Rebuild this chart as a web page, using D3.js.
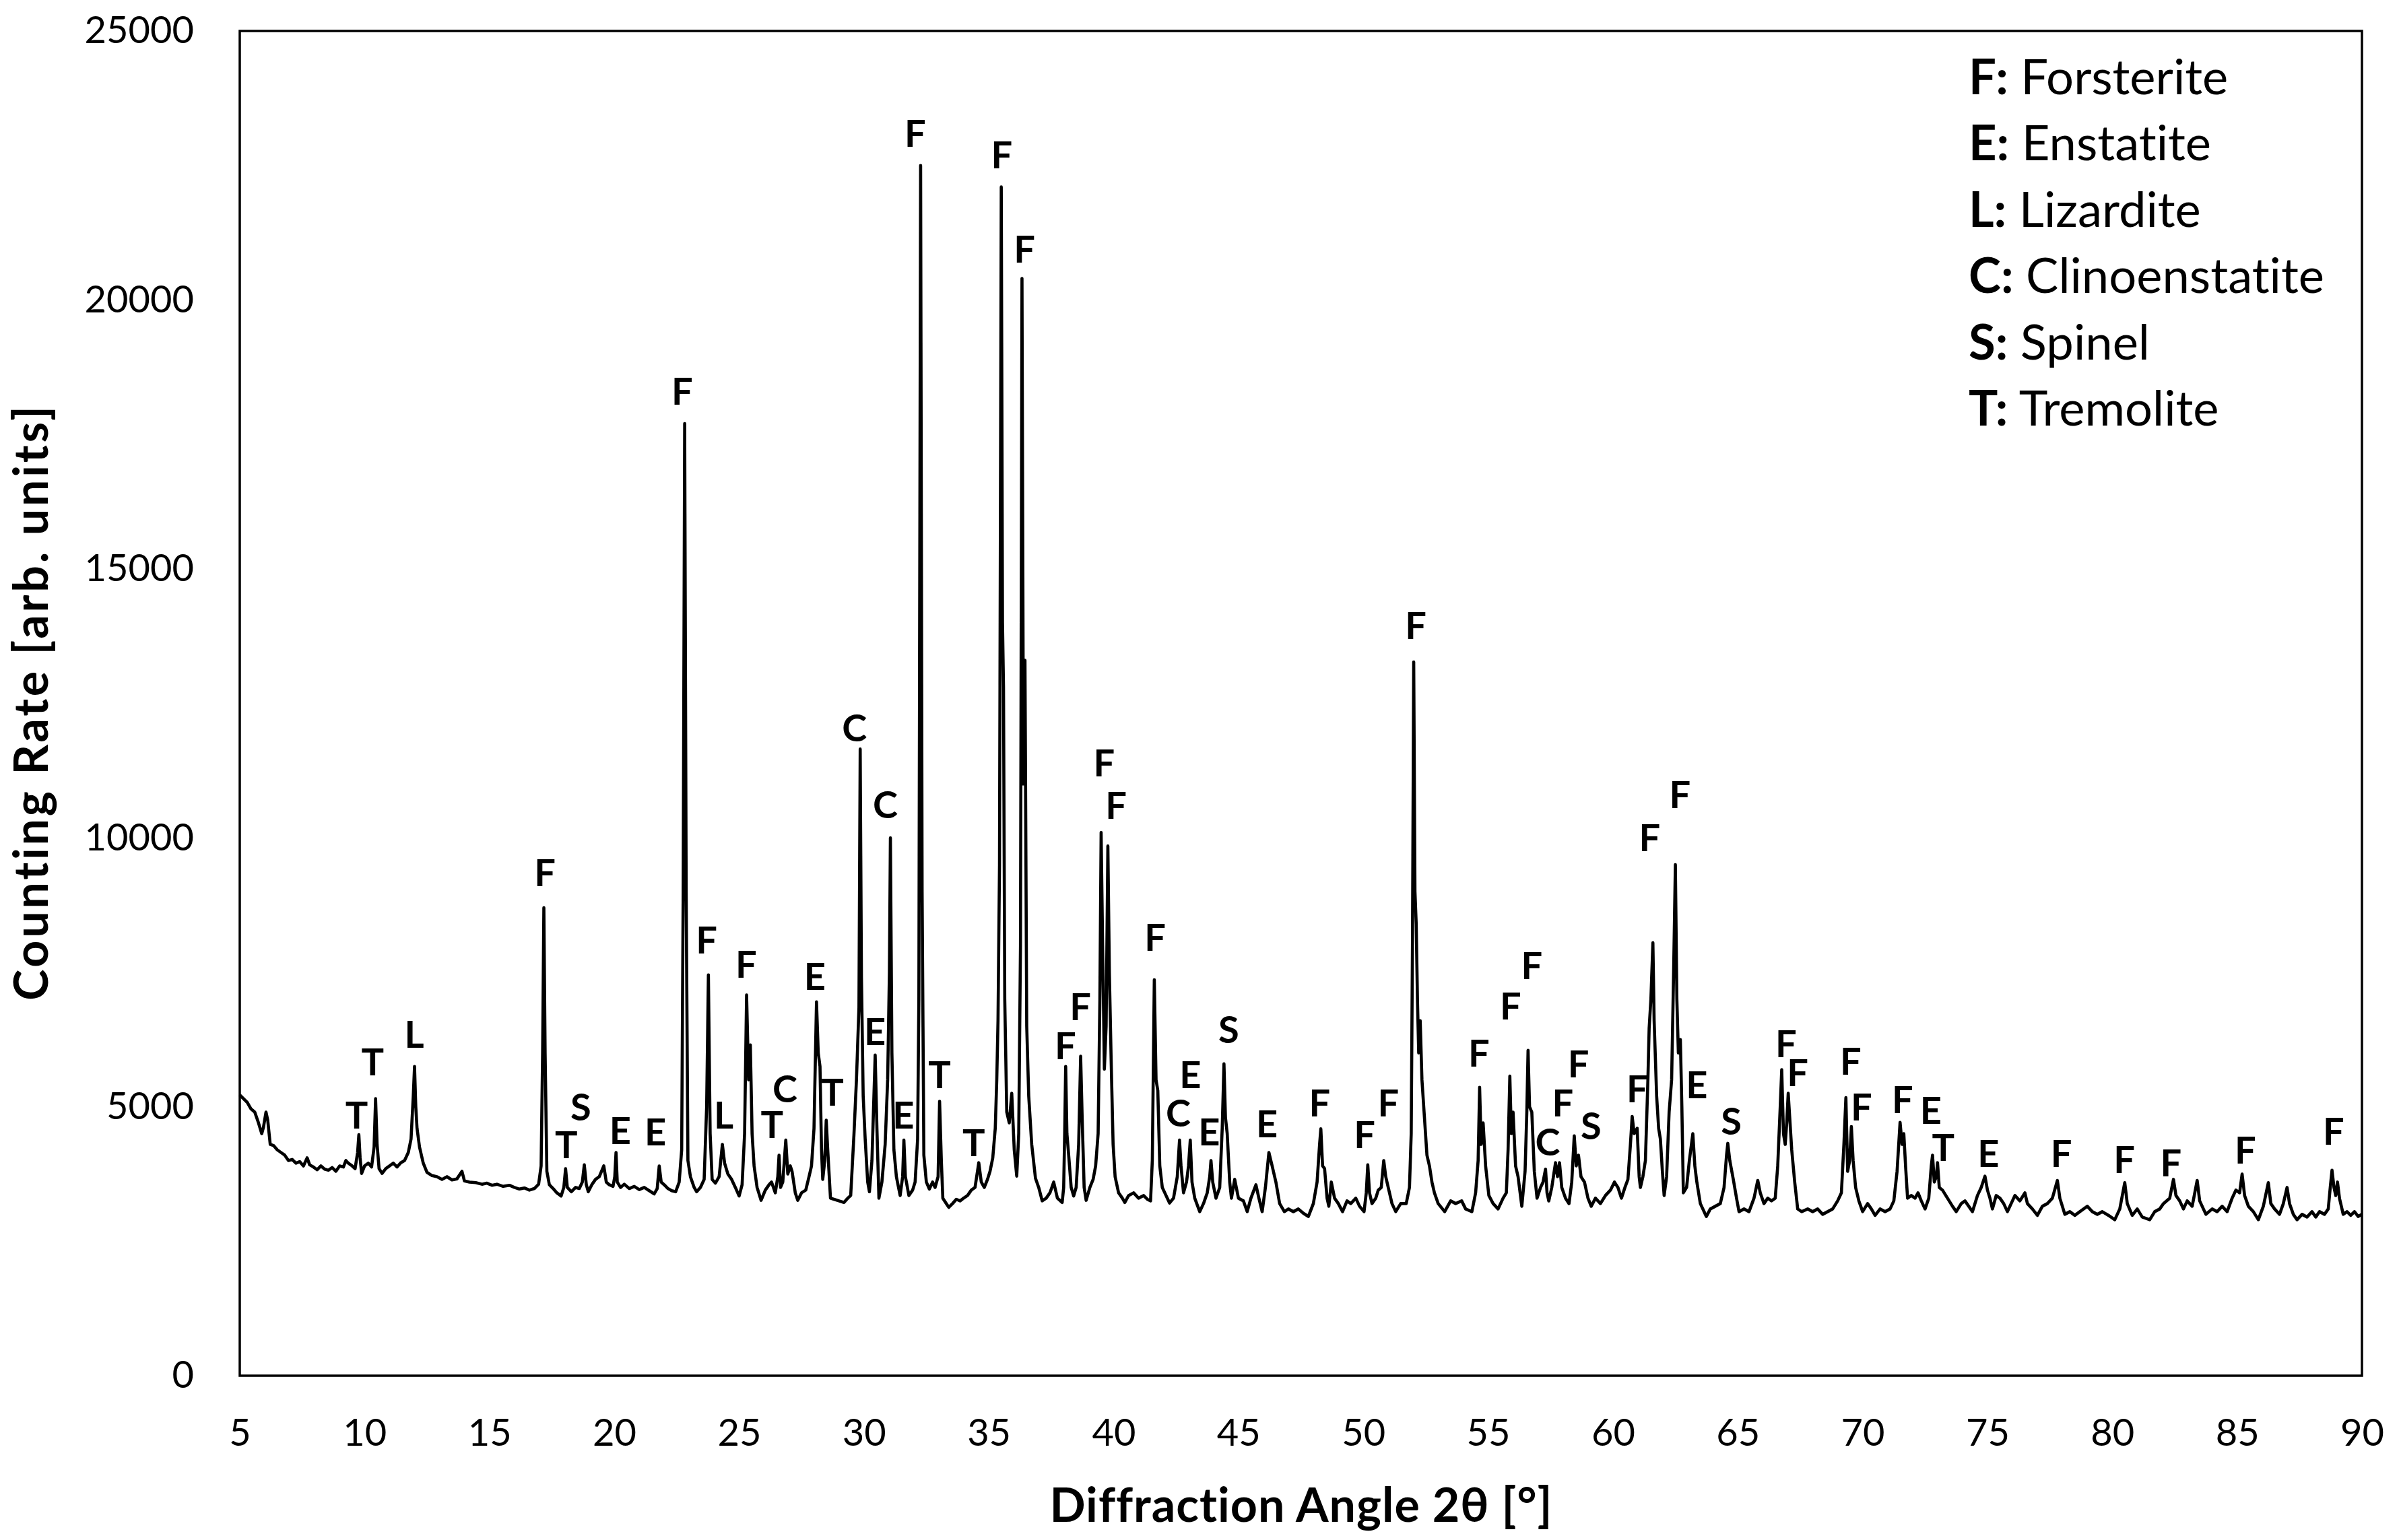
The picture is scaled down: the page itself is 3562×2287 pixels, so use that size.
<!DOCTYPE html>
<html><head><meta charset="utf-8">
<script src="https://cdn.jsdelivr.net/npm/d3@7/dist/d3.min.js"></script>
<style>html,body{margin:0;padding:0;background:#fff;}svg{display:block;}
text{font-variant-ligatures:none;font-feature-settings:"liga" 0,"clig" 0;}</style>
</head><body>
<script>
// ---- data ----
const xTicks = [5,10,15,20,25,30,35,40,45,50,55,60,65,70,75,80,85,90];
const yTicks = [0,5000,10000,15000,20000,25000];
const xTitle = "Diffraction Angle 2θ [°]";
const yTitle = "Counting Rate [arb. units]";
const legendKeys = ["F","E","L","C","S","T"];
const legendNames = ["Forsterite","Enstatite","Lizardite","Clinoenstatite","Spinel","Tremolite"];

// diffraction pattern: [2θ (°), counts]
const scan = [
[5.00,5220],[5.15,5150],[5.30,5080],[5.45,4960],[5.60,4900],[5.75,4700],[5.88,4500],[5.95,4620],[6.05,4900],[6.12,4750],
[6.22,4300],[6.35,4280],[6.50,4200],[6.65,4150],[6.80,4100],[6.95,4000],[7.10,4020],[7.25,3950],[7.40,3980],[7.55,3900],
[7.70,4050],[7.80,3920],[7.95,3880],[8.10,3830],[8.25,3900],[8.40,3840],[8.55,3820],[8.70,3870],[8.85,3800],[9.00,3900],
[9.15,3880],[9.25,4000],[9.35,3950],[9.50,3900],[9.62,3850],[9.72,4150],[9.77,4480],[9.82,4050],[9.88,3760],[10.00,3900],
[10.15,3950],[10.28,3880],[10.38,4250],[10.44,5150],[10.50,4300],[10.58,3850],[10.70,3760],[10.85,3850],[11.00,3900],[11.15,3950],
[11.30,3880],[11.45,3960],[11.60,4000],[11.75,4150],[11.86,4400],[11.95,5200],[12.00,5750],[12.05,5000],[12.10,4600],[12.20,4250],
[12.35,3950],[12.50,3780],[12.70,3720],[12.90,3700],[13.10,3650],[13.30,3700],[13.50,3640],[13.70,3660],[13.90,3800],[14.00,3620],
[14.20,3600],[14.45,3590],[14.70,3560],[14.90,3580],[15.10,3540],[15.30,3560],[15.55,3520],[15.80,3540],[16.00,3500],[16.20,3470],
[16.40,3490],[16.60,3450],[16.80,3480],[16.97,3560],[17.07,3900],[17.13,6000],[17.18,8700],[17.23,6000],[17.30,3800],[17.40,3550],
[17.55,3480],[17.70,3400],[17.87,3340],[17.98,3500],[18.05,3850],[18.12,3500],[18.28,3420],[18.45,3500],[18.60,3480],[18.72,3600],
[18.80,3920],[18.88,3550],[18.96,3420],[19.10,3550],[19.25,3650],[19.40,3700],[19.58,3900],[19.68,3600],[19.80,3550],[19.95,3520],
[20.02,3700],[20.07,4150],[20.12,3600],[20.25,3500],[20.40,3560],[20.60,3480],[20.80,3520],[21.00,3460],[21.20,3500],[21.40,3440],
[21.60,3380],[21.72,3480],[21.80,3900],[21.88,3600],[22.00,3550],[22.15,3480],[22.30,3440],[22.46,3420],[22.60,3600],[22.70,4200],
[22.76,9000],[22.82,17700],[22.88,9000],[22.95,4000],[23.05,3700],[23.20,3500],[23.30,3420],[23.45,3500],[23.60,3650],[23.70,5000],
[23.77,7450],[23.84,4500],[23.92,3650],[24.05,3580],[24.20,3700],[24.33,4300],[24.42,3950],[24.55,3750],[24.70,3650],[24.85,3500],
[25.00,3340],[25.12,3550],[25.22,4500],[25.30,7080],[25.38,5500],[25.45,6150],[25.52,4500],[25.60,3900],[25.72,3500],[25.88,3260],
[26.05,3450],[26.20,3550],[26.30,3600],[26.45,3400],[26.55,3700],[26.60,4100],[26.66,3500],[26.75,3600],[26.87,4380],[26.95,3750],
[27.05,3900],[27.12,3800],[27.25,3400],[27.35,3260],[27.50,3400],[27.67,3450],[27.80,3700],[27.90,3900],[28.00,4600],[28.10,6950],
[28.17,6000],[28.24,5750],[28.30,4200],[28.35,3650],[28.43,4000],[28.49,4750],[28.55,4200],[28.66,3300],[28.80,3280],[29.00,3250],
[29.20,3220],[29.35,3300],[29.47,3350],[29.60,4480],[29.70,5500],[29.80,6840],[29.85,11650],[29.90,7400],[29.97,5200],[30.05,4400],
[30.15,3600],[30.22,3420],[30.32,4000],[30.40,5200],[30.45,5960],[30.52,4600],[30.60,3300],[30.72,3600],[30.85,4300],[30.95,5500],
[31.02,7500],[31.06,10000],[31.12,6000],[31.20,4200],[31.30,3700],[31.45,3350],[31.55,3700],[31.60,4380],[31.66,3700],[31.80,3350],
[31.95,3450],[32.05,3600],[32.15,4400],[32.20,7000],[32.27,22500],[32.33,9000],[32.40,4100],[32.50,3600],[32.62,3470],[32.75,3600],
[32.85,3500],[32.97,3700],[33.03,5100],[33.10,4000],[33.16,3300],[33.30,3200],[33.40,3130],[33.55,3200],[33.70,3280],[33.85,3250],
[33.99,3300],[34.15,3350],[34.30,3450],[34.45,3500],[34.60,3960],[34.70,3600],[34.82,3500],[34.95,3650],[35.05,3800],[35.16,4050],
[35.26,4600],[35.32,5500],[35.37,6600],[35.43,9500],[35.50,22100],[35.55,14000],[35.59,12800],[35.64,7000],[35.72,4900],[35.82,4700],
[35.92,5250],[36.02,4200],[36.12,3710],[36.20,4500],[36.27,8000],[36.33,20400],[36.39,11000],[36.45,13300],[36.52,6500],[36.60,5200],
[36.72,4300],[36.87,3670],[37.00,3500],[37.14,3250],[37.30,3300],[37.45,3400],[37.60,3600],[37.75,3300],[37.94,3220],[38.00,3500],
[38.04,4500],[38.08,5750],[38.13,4500],[38.20,4100],[38.30,3500],[38.40,3340],[38.50,3500],[38.60,4300],[38.68,5940],[38.74,4800],
[38.82,3500],[38.90,3260],[39.05,3500],[39.18,3650],[39.28,3900],[39.38,4500],[39.45,7000],[39.50,10100],[39.56,8000],[39.63,5700],
[39.70,6500],[39.77,9850],[39.83,7500],[39.90,5900],[39.98,4300],[40.06,3700],[40.20,3400],[40.35,3300],[40.45,3220],[40.60,3350],
[40.80,3400],[41.00,3300],[41.20,3350],[41.35,3280],[41.48,3250],[41.55,4000],[41.63,7360],[41.70,5500],[41.77,5300],[41.85,3900],
[41.95,3500],[42.10,3350],[42.24,3210],[42.40,3300],[42.55,3700],[42.64,4380],[42.70,3900],[42.80,3400],[42.92,3600],[43.00,3900],
[43.07,4380],[43.14,3600],[43.25,3300],[43.45,3050],[43.60,3200],[43.75,3400],[43.85,3700],[43.90,4000],[43.97,3600],[44.10,3300],
[44.25,3500],[44.35,4600],[44.42,5800],[44.48,4800],[44.55,4500],[44.65,3600],[44.72,3300],[44.85,3650],[45.00,3300],[45.20,3250],
[45.35,3050],[45.50,3300],[45.70,3550],[45.82,3300],[45.95,3050],[46.08,3500],[46.22,4150],[46.35,3900],[46.50,3600],[46.65,3200],
[46.84,3050],[47.00,3100],[47.20,3050],[47.40,3100],[47.60,3020],[47.80,2960],[48.00,3200],[48.15,3600],[48.25,4300],[48.30,4590],
[48.37,3900],[48.45,3850],[48.55,3300],[48.62,3150],[48.72,3600],[48.85,3300],[49.00,3200],[49.17,3050],[49.35,3250],[49.50,3200],
[49.70,3300],[49.85,3150],[50.03,3050],[50.12,3400],[50.18,3920],[50.25,3400],[50.35,3200],[50.50,3300],[50.60,3450],[50.72,3500],
[50.82,4000],[50.90,3700],[51.00,3500],[51.15,3200],[51.30,3050],[51.50,3200],[51.72,3200],[51.85,3500],[51.92,4500],[51.97,8000],
[52.02,13270],[52.07,9000],[52.12,8400],[52.17,7000],[52.22,6000],[52.28,6600],[52.35,5500],[52.45,4800],[52.55,4100],[52.65,3900],
[52.75,3600],[52.85,3400],[53.00,3200],[53.26,3050],[53.50,3250],[53.70,3200],[53.94,3250],[54.10,3100],[54.35,3050],[54.50,3400],
[54.60,4000],[54.66,5360],[54.72,4300],[54.80,4700],[54.90,3900],[55.03,3350],[55.20,3200],[55.40,3100],[55.60,3300],[55.73,3400],
[55.80,4200],[55.87,5570],[55.93,4500],[56.00,4900],[56.10,3900],[56.20,3700],[56.35,3150],[56.48,3800],[56.55,4900],[56.60,6050],
[56.66,5000],[56.75,4900],[56.85,3800],[56.96,3300],[57.10,3500],[57.20,3600],[57.30,3840],[57.36,3400],[57.43,3250],[57.55,3500],
[57.70,3960],[57.78,3700],[57.86,3960],[57.95,3500],[58.10,3300],[58.24,3200],[58.35,3600],[58.45,4460],[58.53,3900],[58.62,4100],
[58.72,3700],[58.86,3600],[59.00,3300],[59.13,3150],[59.30,3300],[59.50,3200],[59.70,3350],[59.90,3450],[60.06,3600],[60.20,3500],
[60.34,3300],[60.48,3500],[60.60,3650],[60.70,4300],[60.77,4820],[60.85,4500],[60.97,4600],[61.05,3700],[61.10,3500],[61.20,3700],
[61.30,4000],[61.40,5500],[61.45,6460],[61.52,7000],[61.60,8050],[61.65,6600],[61.75,5200],[61.83,4600],[61.90,4400],[61.98,3800],
[62.05,3350],[62.15,3700],[62.25,4900],[62.35,5500],[62.43,7500],[62.50,9500],[62.56,7000],[62.62,6000],[62.70,6250],[62.76,5000],
[62.82,3400],[62.95,3500],[63.06,4000],[63.20,4500],[63.28,3900],[63.36,3600],[63.50,3200],[63.74,2960],[63.90,3100],[64.10,3150],
[64.30,3200],[64.45,3500],[64.55,4100],[64.60,4320],[64.68,4000],[64.82,3650],[64.95,3300],[65.05,3050],[65.25,3100],[65.45,3050],
[65.65,3300],[65.80,3630],[65.90,3400],[66.05,3200],[66.20,3300],[66.35,3250],[66.50,3300],[66.60,3900],[66.70,5000],[66.76,5690],
[66.83,4500],[66.90,4300],[66.96,4700],[67.02,5250],[67.08,4800],[67.16,4200],[67.28,3600],[67.40,3100],[67.56,3050],[67.80,3100],
[68.00,3050],[68.20,3100],[68.40,3000],[68.60,3050],[68.80,3100],[69.00,3250],[69.15,3400],[69.25,4300],[69.33,5170],[69.40,3800],
[69.48,4000],[69.55,4630],[69.62,4000],[69.72,3500],[69.85,3250],[70.00,3050],[70.20,3200],[70.35,3100],[70.50,2980],[70.70,3100],
[70.90,3050],[71.10,3100],[71.25,3250],[71.38,3800],[71.50,4710],[71.58,4300],[71.65,4500],[71.72,3900],[71.80,3300],[71.95,3350],
[72.10,3300],[72.22,3400],[72.35,3250],[72.50,3100],[72.65,3300],[72.75,3900],[72.80,4100],[72.87,3600],[72.95,3700],[73.00,3960],
[73.07,3500],[73.20,3450],[73.40,3300],[73.60,3150],[73.75,3050],[73.95,3200],[74.10,3250],[74.25,3150],[74.40,3050],[74.60,3350],
[74.75,3500],[74.90,3710],[75.00,3450],[75.10,3300],[75.20,3100],[75.35,3350],[75.50,3300],[75.65,3200],[75.80,3050],[76.00,3250],
[76.10,3350],[76.30,3250],[76.50,3400],[76.60,3200],[76.80,3100],[77.00,2980],[77.20,3150],[77.40,3200],[77.60,3300],[77.80,3630],
[77.90,3300],[78.10,3000],[78.30,3050],[78.50,2980],[78.70,3050],[79.00,3150],[79.20,3050],[79.40,3000],[79.60,3050],[79.85,2980],
[80.10,2900],[80.30,3100],[80.50,3590],[80.60,3200],[80.80,2980],[81.00,3100],[81.20,2950],[81.50,2900],[81.70,3050],[81.90,3100],
[82.05,3200],[82.30,3300],[82.45,3650],[82.55,3350],[82.70,3250],[82.85,3100],[83.00,3250],[83.20,3150],[83.40,3630],[83.50,3250],
[83.75,3000],[84.00,3100],[84.20,3050],[84.40,3150],[84.60,3050],[84.80,3300],[84.95,3450],[85.10,3400],[85.20,3750],[85.30,3350],
[85.45,3150],[85.65,3050],[85.85,2900],[86.05,3150],[86.25,3590],[86.35,3200],[86.50,3100],[86.70,3000],[86.85,3200],[87.00,3500],
[87.10,3200],[87.25,3000],[87.40,2900],[87.60,3000],[87.80,2950],[88.00,3050],[88.15,2950],[88.30,3050],[88.50,3000],[88.65,3100],
[88.73,3500],[88.80,3820],[88.88,3500],[88.95,3350],[89.02,3600],[89.10,3300],[89.25,3000],[89.40,3050],[89.55,2980],[89.70,3050],
[89.85,2960],[90.00,3000]
];

// phase labels: letter, 2θ, counts (label centre)
const peakLetters = ["T","T","L","F","T","S","E","E","F","F","L","F","T","C","E","T","C","E","C","E","F","T","T","F","F","F","F","F","F","F","C","E","E","S","E","F","F","F","F","F","F","F","C","F","F","S","F","F","F","E","S","F","F","F","F","F","E","T","E","F","F","F","F","F"];
const peakAngles  = [9.68,10.32,11.99,17.22,18.08,18.66,20.24,21.65,22.72,23.70,24.38,25.28,26.32,26.84,28.03,28.74,29.62,30.44,30.86,31.58,32.05,33.03,34.40,35.52,36.43,38.07,38.67,39.62,40.10,41.66,42.59,43.07,43.83,44.61,46.14,48.25,50.05,51.00,52.10,54.63,55.90,56.75,57.39,57.99,58.62,59.12,60.97,61.47,62.68,63.36,64.74,66.93,67.40,69.52,69.95,71.60,72.73,73.23,75.04,77.96,80.48,82.35,85.33,88.86];
const peakCounts  = [4850,5830,6350,9350,4290,5000,4560,4540,18300,8100,4850,7650,4670,5340,7420,5270,12050,6400,10620,4850,23100,5600,4330,22700,20950,6130,6860,11400,10600,8150,4880,5600,4540,6440,4690,5070,4480,5070,13950,6000,6880,7620,4340,5070,5800,4650,5340,10000,10800,5410,4730,6170,5640,5850,5000,5130,4940,4250,4130,4130,4020,3960,4190,4545];

// ---- drawing ----
const W = 3562, H = 2287;
const FONT = "Lato, 'Open Sans', 'DejaVu Sans', sans-serif";
const svg = d3.select("body").append("svg").attr("width", W).attr("height", H)
  .style("font-family", FONT);
svg.append("rect").attr("width", W).attr("height", H).attr("fill", "#fff");

const x = d3.scaleLinear().domain([5, 90]).range([356, 3507]);
const y = d3.scaleLinear().domain([0, 25000]).range([2043, 46]);

// x axis
const gx = svg.append("g").attr("transform", `translate(0,${y(0)})`)
  .call(d3.axisBottom(x).tickValues(xTicks).tickSize(0).tickPadding(64).tickFormat(d3.format("d")));
gx.select(".domain").remove();
gx.selectAll("text").attr("font-size", 56).attr("font-family", FONT).attr("fill", "#000");

// y axis
const gy = svg.append("g").attr("transform", `translate(${x(5)},0)`)
  .call(d3.axisLeft(y).tickValues(yTicks).tickSize(0).tickPadding(68).tickFormat(d3.format("d")));
gy.select(".domain").remove();
gy.selectAll("text").attr("font-size", 56).attr("font-family", FONT).attr("fill", "#000");

// plot frame
svg.append("rect")
  .attr("x", x(5)).attr("y", y(25000))
  .attr("width", x(90) - x(5)).attr("height", y(0) - y(25000))
  .attr("fill", "none").attr("stroke", "#000").attr("stroke-width", 3.5);

// pattern line
svg.append("path").datum(scan)
  .attr("fill", "none").attr("stroke", "#000").attr("stroke-width", 4.6)
  .attr("stroke-linejoin", "round")
  .attr("d", d3.line().x(d => x(d[0])).y(d => y(d[1])));

// peak labels
svg.append("g").selectAll("text").data(peakLetters).join("text")
  .attr("x", (d, i) => x(peakAngles[i]))
  .attr("y", (d, i) => y(peakCounts[i]))
  .attr("text-anchor", "middle").attr("dy", "0.36em")
  .attr("font-size", 56).attr("font-weight", 700).attr("fill", "#000")
  .text(d => d);

// axis titles
svg.append("text").attr("x", (x(5) + x(90)) / 2).attr("y", 2260)
  .attr("text-anchor", "middle")
  .attr("font-size", 70).attr("font-weight", 700).attr("fill", "#000")
  .attr("textLength", 746).attr("lengthAdjust", "spacing")
  .text(xTitle);

svg.append("text")
  .attr("transform", `translate(46,${(y(0) + y(25000)) / 2}) rotate(-90)`)
  .attr("text-anchor", "middle").attr("dy", "0.36em")
  .attr("font-size", 70).attr("font-weight", 700).attr("fill", "#000")
  .attr("textLength", 883).attr("lengthAdjust", "spacing")
  .text(yTitle);

// legend (text only)
const lg = svg.append("g");
const rows = lg.selectAll("text").data(legendKeys).join("text")
  .attr("x", 2923).attr("y", (d, i) => 114 + i * 98.4)
  .attr("dy", "0.36em").attr("fill", "#000").attr("font-size", 66);
rows.append("tspan").attr("font-weight", 700).text(d => d + ":");
rows.append("tspan").attr("font-weight", 400).text((d, i) => " " + legendNames[i]);
// fit legend font to reference width of the longest row
const ref = rows.filter((d, i) => i === 3).node();
const fs = 66 * 528 / ref.getComputedTextLength();
rows.attr("font-size", fs);
</script>
</body></html>
